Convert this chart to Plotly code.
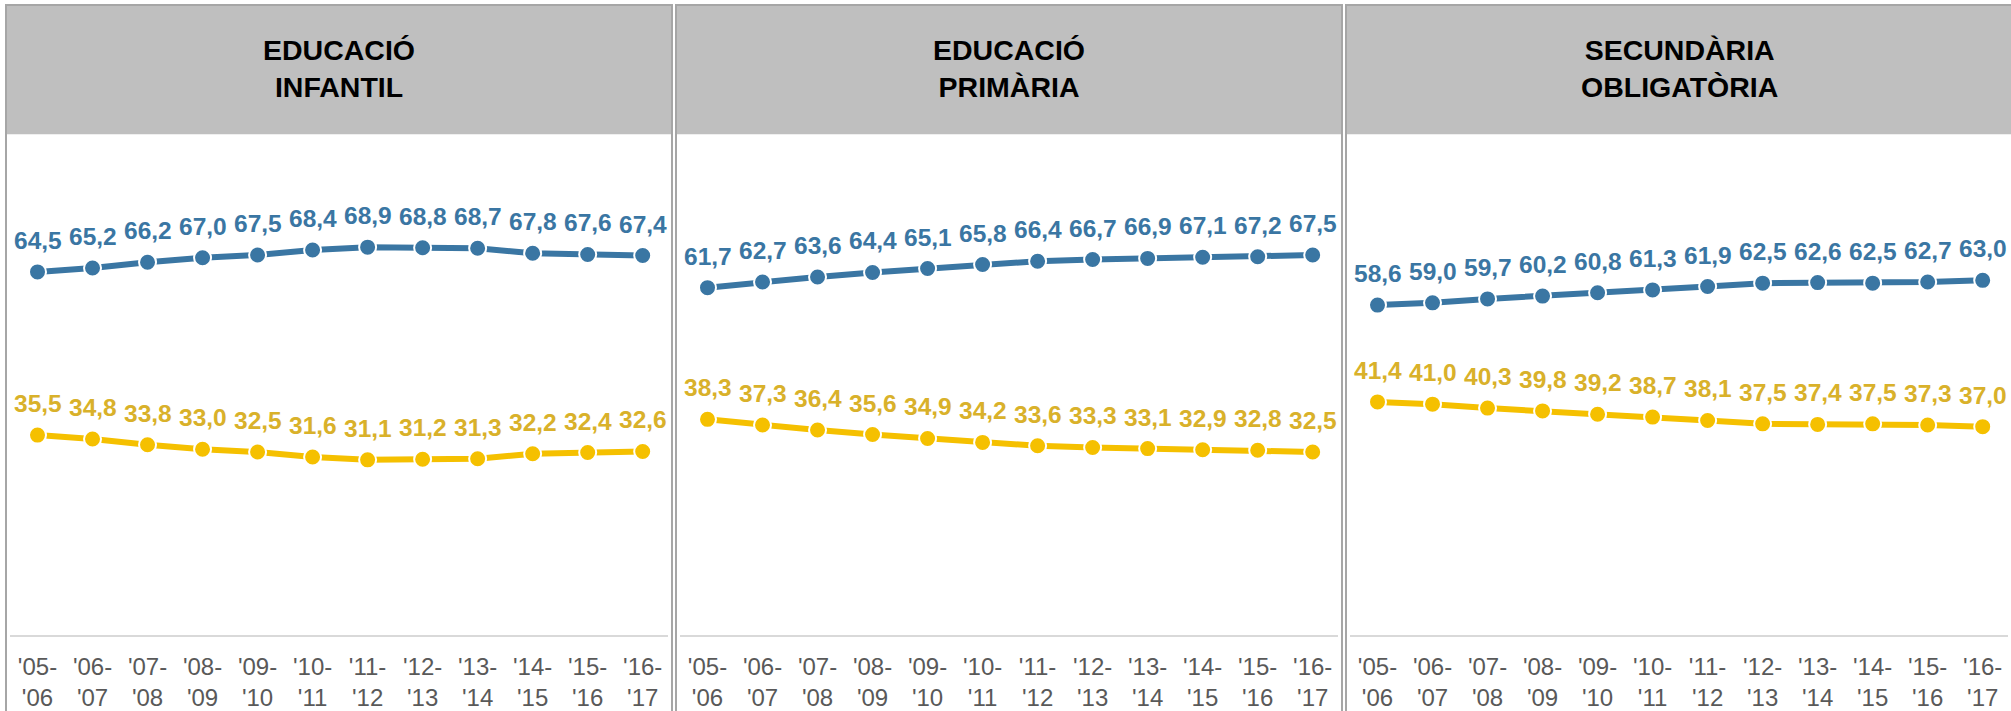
import plotly.graph_objects as go

W, H = 2011, 711

# ---- data ----
categories = ["'05-<br>'06", "'06-<br>'07", "'07-<br>'08", "'08-<br>'09", "'09-<br>'10", "'10-<br>'11",
              "'11-<br>'12", "'12-<br>'13", "'13-<br>'14", "'14-<br>'15", "'15-<br>'16", "'16-<br>'17"]
panel_titles = ["EDUCACIÓ<br>INFANTIL", "EDUCACIÓ<br>PRIMÀRIA", "SECUNDÀRIA<br>OBLIGATÒRIA"]

infantil_blue = [64.5, 65.2, 66.2, 67.0, 67.5, 68.4, 68.9, 68.8, 68.7, 67.8, 67.6, 67.4]
infantil_yellow = [35.5, 34.8, 33.8, 33.0, 32.5, 31.6, 31.1, 31.2, 31.3, 32.2, 32.4, 32.6]
primaria_blue = [61.7, 62.7, 63.6, 64.4, 65.1, 65.8, 66.4, 66.7, 66.9, 67.1, 67.2, 67.5]
primaria_yellow = [38.3, 37.3, 36.4, 35.6, 34.9, 34.2, 33.6, 33.3, 33.1, 32.9, 32.8, 32.5]
secundaria_blue = [58.6, 59.0, 59.7, 60.2, 60.8, 61.3, 61.9, 62.5, 62.6, 62.5, 62.7, 63.0]
secundaria_yellow = [41.4, 41.0, 40.3, 39.8, 39.2, 38.7, 38.1, 37.5, 37.4, 37.5, 37.3, 37.0]

blue_series = [infantil_blue, primaria_blue, secundaria_blue]
yellow_series = [infantil_yellow, primaria_yellow, secundaria_yellow]

BLUE = "#3A76A3"
YELLOW = "#F5C000"
YELLOW_TXT = "#D9B12A"
HEADER = "#BFBFBF"
BORDER = "#A6A6A6"

# ---- layout geometry (pixels) ----
panel_left = [6, 676, 1346]
panel_w = 666
header_top, header_bot = 5, 135
zero_px = 638.5
px_per_unit = 5.66

def px(x):
    return x / W

def py(y):
    return 1 - y / H

fig = go.Figure()
shapes = []
annotations = []
layout_axes = {}

for k in range(3):
    L = panel_left[k]
    R = L + panel_w
    xa = "x" if k == 0 else f"x{k+1}"
    ya = "y" if k == 0 else f"y{k+1}"
    xkey = "xaxis" if k == 0 else f"xaxis{k+1}"
    ykey = "yaxis" if k == 0 else f"yaxis{k+1}"
    idx = list(range(len(categories)))

    for vals, col, tcol in [(blue_series[k], BLUE, BLUE), (yellow_series[k], YELLOW, YELLOW_TXT)]:
        fig.add_trace(go.Scatter(
            x=idx, y=vals, mode="lines+markers", xaxis=xa, yaxis=ya,
            line=dict(color=col, width=6),
            marker=dict(color=col, size=17, line=dict(color="white", width=2)),
            showlegend=False, hoverinfo="skip"))
        for i, v in zip(idx, vals):
            annotations.append(dict(
                x=i, y=v, xref=xa, yref=ya, text=f"{v:.1f}".replace(".", ","),
                showarrow=False, yanchor="bottom", yshift=16,
                font=dict(family="Liberation Sans, Arial", size=24.5, color=tcol, weight="bold")))

    # axes
    dl, dr = L + 4, R - 4
    layout_axes[xkey] = dict(
        domain=[px(dl), px(dr)], range=[-0.5, 11.46], anchor=ya,
        tickmode="array", tickvals=idx, ticktext=categories,
        showgrid=False, zeroline=False, showline=True, linecolor="#D9D9D9", linewidth=2,
        ticks="outside", ticklen=9, tickcolor="rgba(0,0,0,0)",
        tickfont=dict(family="Liberation Sans, Arial", size=24, color="#595959"),
        fixedrange=True)
    ytop = (zero_px - header_bot) / px_per_unit
    layout_axes[ykey] = dict(
        domain=[py(zero_px), py(header_bot)], range=[0, ytop], anchor=xa,
        visible=False, fixedrange=True)

    # header
    shapes.append(dict(type="rect", xref="paper", yref="paper",
                       x0=px(L), x1=px(R), y0=py(header_bot), y1=py(header_top),
                       fillcolor=HEADER, line=dict(width=0), layer="below"))
    # border
    shapes.append(dict(type="rect", xref="paper", yref="paper",
                       x0=px(L), x1=px(R), y0=-0.05, y1=py(header_top),
                       fillcolor="rgba(0,0,0,0)", line=dict(color=BORDER, width=2), layer="above"))
    annotations.append(dict(
        x=px((L + R) / 2), y=py((header_top + header_bot) / 2 - 1), xref="paper", yref="paper",
        text=panel_titles[k], showarrow=False, xanchor="center", yanchor="middle",
        font=dict(family="Liberation Sans, Arial", size=28.5, color="black", weight="bold")))

fig.update_layout(
    width=W, height=H, margin=dict(l=0, r=0, t=0, b=0),
    paper_bgcolor="white", plot_bgcolor="rgba(0,0,0,0)",
    shapes=shapes, annotations=annotations, **layout_axes)

fig.write_html("out.html", config={"displayModeBar": False},
               post_script="document.body.style.margin='0px';document.body.style.overflow='hidden';")
